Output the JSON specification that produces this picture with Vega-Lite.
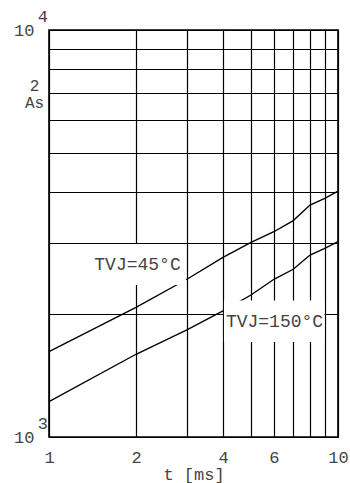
{
  "$schema": "https://vega.github.io/schema/vega-lite/v6.json",
  "width": 289,
  "height": 407,
  "autosize": {"type": "none"},
  "padding": {"left": 49, "top": 30, "right": 12, "bottom": 46},
  "background": "white",
  "config": {
    "view": {"stroke": "#000", "strokeWidth": 1.6},
    "font": "Liberation Mono",
    "axis": {
      "domain": false,
      "ticks": false,
      "tickSize": 0,
      "grid": true,
      "gridColor": "#000",
      "gridWidth": 1.2,
      "gridOpacity": 1,
      "labelFont": "Liberation Mono",
      "labelFontSize": 17,
      "labelColor": "#444",
      "labelFlush": false,
      "labelOverlap": false,
      "titleFont": "Liberation Mono",
      "titleFontWeight": "normal",
      "titleColor": "#444"
    }
  },
  "datasets": {
    "curves": [
      {"t": 1, "v": 1620, "series": "TVJ=45°C"},
      {"t": 2, "v": 2083, "series": "TVJ=45°C"},
      {"t": 3, "v": 2441, "series": "TVJ=45°C"},
      {"t": 4, "v": 2764, "series": "TVJ=45°C"},
      {"t": 5, "v": 3008, "series": "TVJ=45°C"},
      {"t": 6, "v": 3194, "series": "TVJ=45°C"},
      {"t": 7, "v": 3401, "series": "TVJ=45°C"},
      {"t": 8, "v": 3715, "series": "TVJ=45°C"},
      {"t": 9, "v": 3858, "series": "TVJ=45°C"},
      {"t": 10, "v": 4021, "series": "TVJ=45°C"},
      {"t": 1, "v": 1221, "series": "TVJ=150°C"},
      {"t": 2, "v": 1597, "series": "TVJ=150°C"},
      {"t": 3, "v": 1832, "series": "TVJ=150°C"},
      {"t": 4, "v": 2040, "series": "TVJ=150°C"},
      {"t": 5, "v": 2233, "series": "TVJ=150°C"},
      {"t": 6, "v": 2441, "series": "TVJ=150°C"},
      {"t": 7, "v": 2583, "series": "TVJ=150°C"},
      {"t": 8, "v": 2800, "series": "TVJ=150°C"},
      {"t": 9, "v": 2908, "series": "TVJ=150°C"},
      {"t": 10, "v": 3019, "series": "TVJ=150°C"}
    ],
    "labels": [
      {"t": 2.024, "v": 2572, "t1": 1.35, "t2": 2.98, "v1": 2363, "v2": 2980, "label": "TVJ=45°C"},
      {"t": 6.03, "v": 1860, "t1": 4.03, "t2": 8.98, "v1": 1712, "v2": 2164, "label": "TVJ=150°C"}
    ],
    "exponents": [
      {"t": 0.953, "v": 1076, "label": "3"},
      {"t": 0.953, "v": 10762, "label": "4"}
    ]
  },
  "layer": [
    {
      "data": {"name": "curves"},
      "mark": {"type": "line", "color": "#000", "strokeWidth": 1.4},
      "encoding": {
        "x": {
          "field": "t", "type": "quantitative",
          "scale": {"type": "log", "domain": [1, 10], "nice": false},
          "axis": {
            "values": [1, 2, 3, 4, 5, 6, 7, 8, 9, 10],
            "labelExpr": "indexof([1,2,4,6,10], datum.value) >= 0 ? '' + datum.value : ''",
            "labelPadding": 12,
            "labelBaseline": "top",
            "title": "t [ms]",
            "titleFontSize": 17,
            "titlePadding": 1
          }
        },
        "y": {
          "field": "v", "type": "quantitative",
          "scale": {"type": "log", "domain": [1000, 10000], "nice": false},
          "axis": {
            "values": [1000, 2000, 3000, 4000, 5000, 6000, 7000, 8000, 9000, 10000],
            "labelExpr": "datum.value == 1000 || datum.value == 10000 ? '10' : ''",
            "labelPadding": 15,
            "title": ["2", "As"],
            "titleAngle": 0,
            "titleAlign": "center",
            "titleBaseline": "top",
            "titleFontSize": 16,
            "titleLineHeight": 17,
            "titleX": -15,
            "titleY": 47
          }
        },
        "detail": {"field": "series"}
      }
    },
    {
      "data": {"name": "labels"},
      "mark": {"type": "rect", "fill": "white", "stroke": null},
      "encoding": {
        "x": {"field": "t1", "type": "quantitative"},
        "x2": {"field": "t2"},
        "y": {"field": "v1", "type": "quantitative"},
        "y2": {"field": "v2"}
      }
    },
    {
      "data": {"name": "labels"},
      "mark": {"type": "text", "font": "Liberation Mono", "fontSize": 18, "color": "#444", "align": "center", "baseline": "alphabetic"},
      "encoding": {
        "x": {"field": "t", "type": "quantitative"},
        "y": {"field": "v", "type": "quantitative"},
        "text": {"field": "label"}
      }
    },
    {
      "data": {"name": "exponents"},
      "mark": {"type": "text", "font": "Liberation Mono", "fontSize": 17, "color": "#444", "align": "center", "baseline": "middle"},
      "encoding": {
        "x": {"field": "t", "type": "quantitative"},
        "y": {"field": "v", "type": "quantitative"},
        "text": {"field": "label"}
      }
    }
  ]
}
